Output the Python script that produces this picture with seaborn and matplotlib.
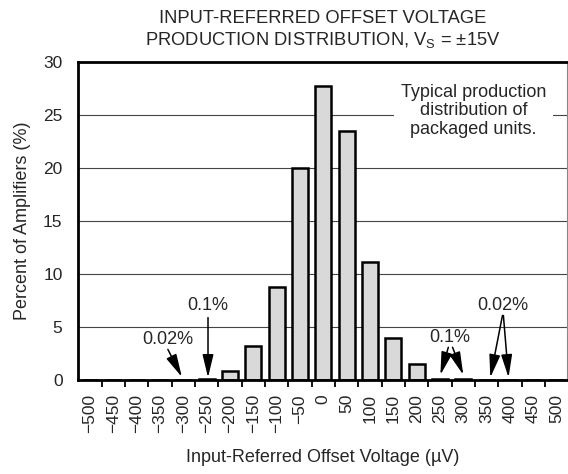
"""
offset voltage production distribution histogram
"""
import matplotlib
matplotlib.use("Agg")
import matplotlib.pyplot as plt
from matplotlib.patches import FancyArrowPatch
import numpy as np
import seaborn as sns

# bin centres (uV) and percent of amplifiers in each bin
offset_uv = [-500, -450, -400, -350, -300, -250, -200, -150, -100, -50, 0,
             50, 100, 150, 200, 250, 300, 350, 400, 450, 500]
percent = [0, 0, 0, 0, 0.02, 0.1, 0.9, 3.2, 8.8, 20.0, 27.7,
           23.5, 11.1, 4.0, 1.5, 0.1, 0.1, 0.02, 0.02, 0, 0]
y_ticks = [0, 5, 10, 15, 20, 25, 30]

sns.set_style("white")
plt.rcParams["font.family"] = ["Liberation Sans", "DejaVu Sans"]
plt.rcParams["mathtext.fontset"] = "custom"
plt.rcParams["mathtext.rm"] = "Liberation Sans"

fig = plt.figure(figsize=(5.68, 4.74), dpi=100)
ax = fig.add_axes([0.137, 0.198, 0.861, 0.671])

# gridlines behind the bars
for y in y_ticks[1:-1]:
    ax.axhline(y, color="#444444", lw=0.8, zorder=0)

sns.barplot(
    x=offset_uv,
    y=percent,
    native_scale=True,
    width=0.68,
    color="#d9d9d9",
    edgecolor="black",
    linewidth=1.8,
    errorbar=None,
    ax=ax,
    zorder=2,
)
for patch in ax.patches:
    patch.set_facecolor("#d9d9d9")

ax.set_xlim(-526, 522)
ax.set_ylim(0, 30)
ax.set_xticks(offset_uv)
ax.set_xticklabels([str(v).replace("-", "\u2212") for v in offset_uv],
                   rotation=90, fontsize=12.5)
ax.set_xticks(np.arange(-475, 500, 50), minor=True)
ax.tick_params(axis="x", which="major", length=0, pad=10)
ax.tick_params(axis="x", which="minor", length=5, width=1.3,
               direction="out", color="black", bottom=True)
ax.set_yticks(y_ticks)
ax.tick_params(axis="y", length=0, pad=11, labelsize=12.5)

for side in ["left", "top", "bottom"]:
    ax.spines[side].set_linewidth(2)
    ax.spines[side].set_color("black")
ax.spines["right"].set_linewidth(0.8)
ax.spines["right"].set_color("#888888")
for s in ax.spines.values():
    s.set_zorder(5)

ax.set_xlabel("Input-Referred Offset Voltage (\u00b5V)", fontsize=13, labelpad=11)
ax.set_ylabel("Percent of Amplifiers (%)", fontsize=13, labelpad=9)
ax.set_title("INPUT-REFERRED OFFSET VOLTAGE\n"
             "PRODUCTION DISTRIBUTION, V$_\\mathrm{S}$ = \u00b115V",
             fontsize=13.2, pad=12, linespacing=1.25)

# note box
ax.text(322, 25.4, "Typical production\ndistribution of\npackaged units.",
        ha="center", va="center", fontsize=13, zorder=4, linespacing=1.1,
        bbox=dict(facecolor="white", edgecolor="none", pad=5))


def arrow(x0, y0, x1, y1):
    ax.add_patch(FancyArrowPatch(
        (x0, y0), (x1, y1),
        arrowstyle="-|>,head_length=1.0,head_width=0.24",
        mutation_scale=14, color="black", lw=1.1,
        shrinkA=0, shrinkB=0, zorder=4))


# small-bin annotations
ax.text(-334, 3.8, "0.02%", ha="center", va="center", fontsize=13, zorder=4)
arrow(-333, 2.9, -303, 0.3)
ax.text(-247, 7.0, "0.1%", ha="center", va="center", fontsize=13, zorder=4)
arrow(-247, 5.9, -247, 0.25)
ax.text(272, 4.0, "0.1%", ha="center", va="center", fontsize=13, zorder=4)
arrow(268, 3.1, 251, 0.5)
arrow(277, 3.1, 300, 0.5)
ax.text(384, 7.0, "0.02%", ha="center", va="center", fontsize=13, zorder=4)
arrow(384, 6.1, 358, 0.25)
arrow(386, 6.1, 397, 0.25)

fig.savefig("out.png", dpi=100)
